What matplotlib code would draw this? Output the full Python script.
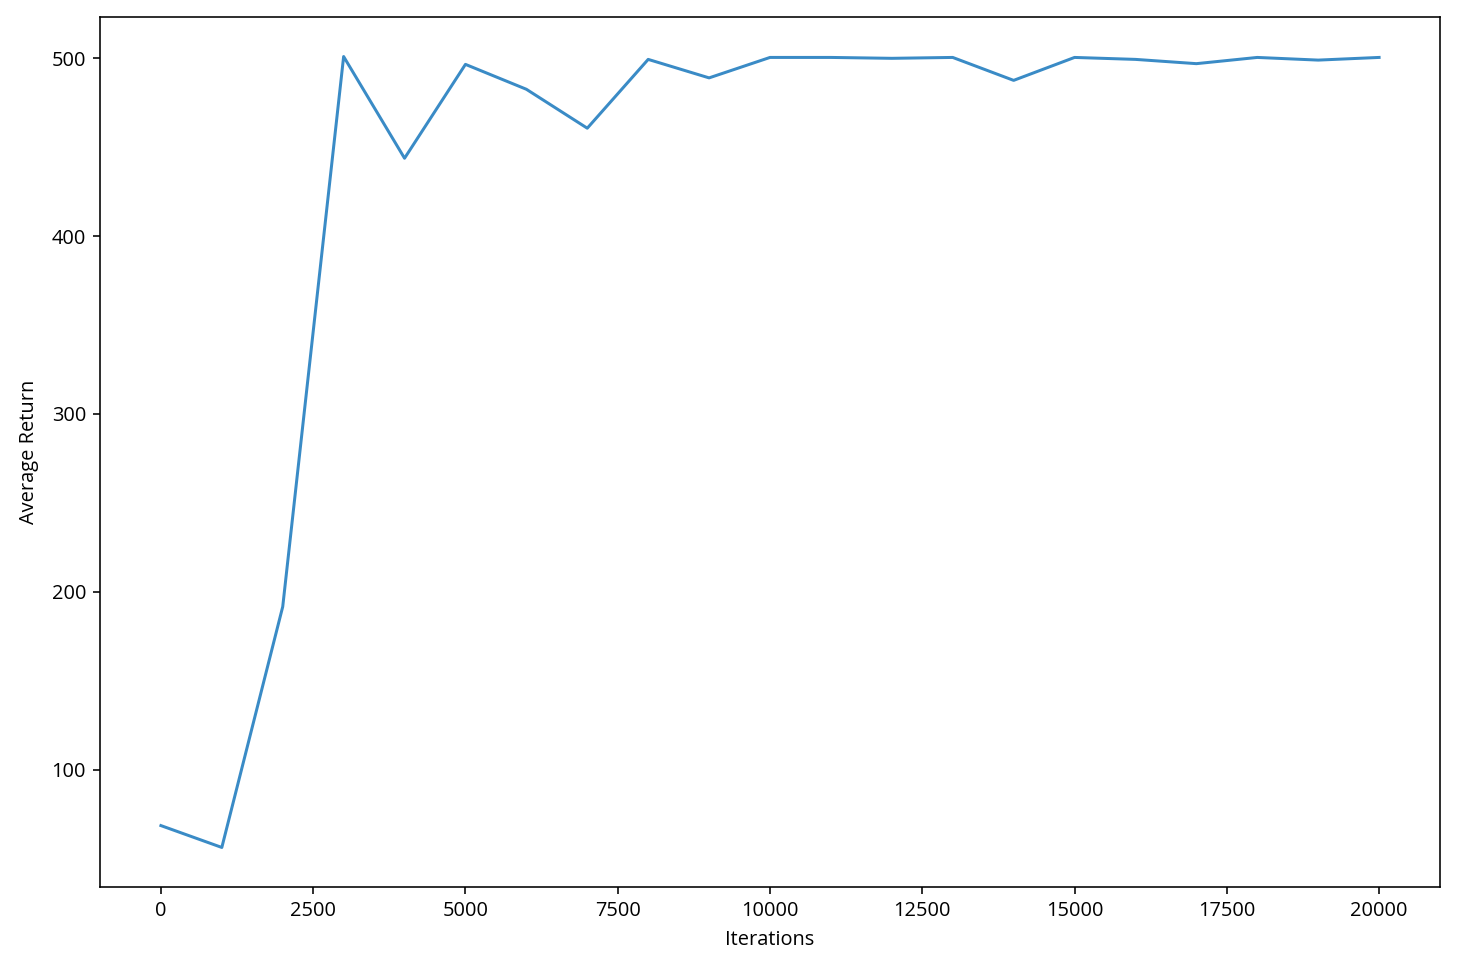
import numpy as np
import matplotlib.pyplot as plt

plt.rcParams['font.family'] = ['Open Sans', 'DejaVu Sans']

# evaluation every 1000 iterations
iterations = [0, 1000, 2000, 3000, 4000, 5000, 6000, 7000, 8000, 9000, 10000,
              11000, 12000, 13000, 14000, 15000, 16000, 17000, 18000, 19000, 20000]
avg_return = [68.5, 56.2, 191.6, 501.0, 443.8, 496.6, 482.6, 460.7, 499.4, 489.0, 500.5,
              500.5, 500.0, 500.5, 487.6, 500.5, 499.4, 497.0, 500.5, 499.0, 500.5]

fig = plt.figure(figsize=(1468 / 144, 964 / 144), dpi=144)
ax = fig.add_axes([100 / 1468, 1 - 887 / 964, 1340 / 1468, 870 / 964])
ax.plot(iterations, avg_return, color='#3a8bc6', linewidth=1.5)
ax.set_xlabel('Iterations', labelpad=4.5)
ax.set_ylabel('Average Return', labelpad=6.5)
ax.set_yticks([100, 200, 300, 400, 500])
ax.set_xlim(-1000, 21000)

plt.savefig('out.png', dpi=144)
